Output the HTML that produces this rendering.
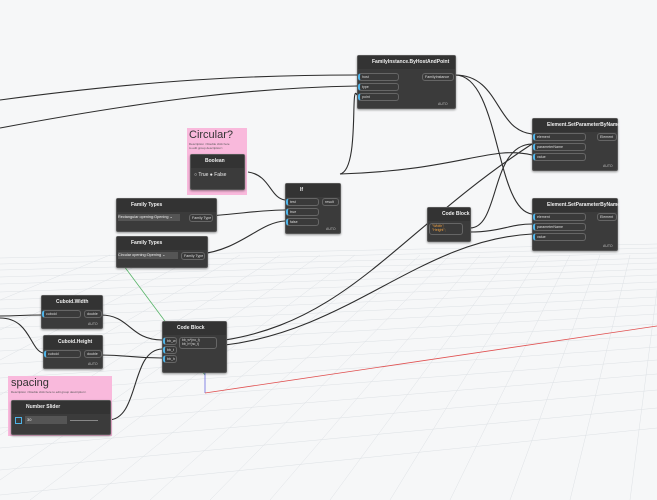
<!DOCTYPE html>
<html><head><style>
body{margin:0;width:657px;height:500px;overflow:hidden;background:#f6f7f8;font-family:"Liberation Sans",sans-serif;}
.n{position:absolute;background:#3b3b3b;border:1px solid #555;border-radius:2px;box-shadow:0 1px 2px rgba(0,0,0,.4);text-align:left;}
.h{height:13px;background:#333;color:#eee;font-size:5px;line-height:13px;padding-left:14px;font-weight:bold;text-align:left;}
.p{position:absolute;height:6px;border:1px solid #666;border-radius:3px;background:#3a3a3a;color:#ddd;font-size:3.6px;line-height:6px;padding-left:2px;}
.p.i{border-left:2px solid #4fb4e8;}
.g{position:absolute;background:#f9b9dc;}
.t{position:absolute;color:#bbb;font-size:3.5px;}
</style></head><body>
<svg width="657" height="500" style="position:absolute;left:0;top:0">
<g stroke="#dde1e5" stroke-width="0.5" fill="none">
<path d="M0 258 L657 244 M0 264 L657 248 M0 270 L657 253 M0 277 L657 258 M0 284 L657 263 M0 292 L657 269 M0 300 L657 275 M0 309 L657 282 M0 318 L657 289 M0 328 L657 297 M0 339 L657 305 M0 351 L657 314 M0 364 L657 324 M0 378 L657 335 M0 393 L657 347 M0 410 L657 360 M0 428 L657 374 M0 448 L657 390 M0 470 L657 408 M0 495 L657 428"/>
<path d="M0 300 L110 255 M0 330 L160 255 M0 360 L200 255 M0 395 L240 255 M0 435 L280 255 M0 480 L320 255 M30 500 L355 255 M90 500 L390 255 M150 500 L420 255 M210 500 L450 255 M270 500 L480 255 M330 500 L510 255 M390 500 L540 255 M450 500 L570 255 M510 500 L600 255 M570 500 L630 255 M630 500 L657 290"/>
</g>
<line x1="118" y1="258" x2="205" y2="375" stroke="#5ab56a" stroke-width="0.8"/>
<line x1="205" y1="355" x2="205" y2="393" stroke="#6a6ae0" stroke-width="0.8"/>
<line x1="205" y1="393" x2="657" y2="326" stroke="#e05050" stroke-width="0.8"/>
<g stroke="#2d2d2d" stroke-width="1.1" fill="none">
<path d="M0 100 C150 80 250 75 357 75"/>
<path d="M0 128 C150 100 250 88 357 86"/>
<path d="M455 75 C500 75 495 130 532 134"/>
<path d="M455 75 C500 75 495 210 532 214"/>
<path d="M340 174 C360 170 350 80 357 95"/>
<path d="M340 174 C460 170 490 145 532 155"/>
<path d="M248 172 C270 175 270 198 285 200"/>
<path d="M208 216 C240 214 260 210 285 210"/>
<path d="M200 254 C240 250 260 222 285 221"/>
<path d="M470 228 C500 228 490 145 532 144"/>
<path d="M470 232 C500 232 510 224 532 224"/>
<path d="M225 340 C350 320 400 230 532 144"/>
<path d="M225 345 C350 330 420 240 532 234"/>
<path d="M0 316 C20 316 20 315 41 315"/>
<path d="M0 318 C30 318 30 350 43 353"/>
<path d="M101 315 C130 315 130 340 162 340"/>
<path d="M101 355 C130 355 130 358 162 358"/>
<path d="M108 420 C140 420 130 350 162 349"/>
</g>
</svg>
<div class="n" style="left:357px;top:55px;width:97px;height:52px"><div class="h">FamilyInstance.ByHostAndPoint</div>
<div class="p i" style="left:0;top:17px;width:36px">host</div><div class="p i" style="left:0;top:27px;width:36px">type</div><div class="p i" style="left:0;top:37px;width:36px">point</div>
<div class="p" style="left:64px;top:17px;width:28px">FamilyInstance</div><div class="t" style="left:80px;top:46px">AUTO</div></div>
<div class="n" style="left:532px;top:118px;width:84px;height:51px"><div class="h">Element.SetParameterByName</div>
<div class="p i" style="left:0;top:14px;width:48px">element</div><div class="p i" style="left:0;top:24px;width:48px">parameterName</div><div class="p i" style="left:0;top:34px;width:48px">value</div>
<div class="p" style="left:64px;top:14px;width:16px">Element</div><div class="t" style="left:70px;top:45px">AUTO</div></div>
<div class="n" style="left:532px;top:198px;width:84px;height:51px"><div class="h">Element.SetParameterByName</div>
<div class="p i" style="left:0;top:14px;width:48px">element</div><div class="p i" style="left:0;top:24px;width:48px">parameterName</div><div class="p i" style="left:0;top:34px;width:48px">value</div>
<div class="p" style="left:64px;top:14px;width:16px">Element</div><div class="t" style="left:70px;top:45px">AUTO</div></div>
<div class="n" style="left:427px;top:207px;width:42px;height:33px"><div class="h">Code Block</div>
<div class="p" style="left:1px;top:15px;width:30px;height:10px;color:#f0a040;font-size:3.5px;line-height:4px">"Width";<br>"Height";</div></div>
<div class="g" style="left:187px;top:128px;width:60px;height:67px"><div style="font-size:11px;color:#333;padding:1px 2px">Circular?</div><div style="font-size:3px;color:#555;padding-left:2px">Description &lt;Double click here<br>to edit group description&gt;</div></div>
<div class="n" style="left:190px;top:154px;width:53px;height:34px"><div class="h">Boolean</div><div style="color:#eee;font-size:5px;padding:4px 3px">○ True ● False</div></div>
<div class="n" style="left:285px;top:183px;width:54px;height:49px"><div class="h">If</div>
<div class="p i" style="left:0;top:14px;width:28px">test</div><div class="p i" style="left:0;top:24px;width:28px">true</div><div class="p i" style="left:0;top:34px;width:28px">false</div>
<div class="p" style="left:36px;top:14px;width:13px">result</div><div class="t" style="left:40px;top:43px">AUTO</div></div>
<div class="n" style="left:116px;top:198px;width:99px;height:32px"><div class="h">Family Types</div>
<div style="position:absolute;left:1px;top:15px;width:62px;height:7px;background:#555;color:#eee;font-size:3.8px;line-height:7px">Rectangular opening:Opening ⌄</div><div class="p" style="left:72px;top:15px;width:20px">Family Type</div></div>
<div class="n" style="left:116px;top:236px;width:90px;height:30px"><div class="h">Family Types</div>
<div style="position:absolute;left:1px;top:15px;width:60px;height:7px;background:#555;color:#eee;font-size:3.8px;line-height:7px">Circular opening:Opening ⌄</div><div class="p" style="left:64px;top:15px;width:20px">Family Type</div></div>
<div class="n" style="left:41px;top:295px;width:60px;height:32px"><div class="h">Cuboid.Width</div>
<div class="p i" style="left:0;top:14px;width:34px">cuboid</div><div class="p" style="left:42px;top:14px;width:14px">double</div><div class="t" style="left:46px;top:26px">AUTO</div></div>
<div class="n" style="left:43px;top:335px;width:58px;height:32px"><div class="h">Cuboid.Height</div>
<div class="p i" style="left:0;top:14px;width:32px">cuboid</div><div class="p" style="left:40px;top:14px;width:14px">double</div><div class="t" style="left:44px;top:26px">AUTO</div></div>
<div class="n" style="left:162px;top:321px;width:63px;height:50px"><div class="h">Code Block</div>
<div class="p i" style="left:0;top:15px;width:9px">bb_w</div><div class="p i" style="left:0;top:24px;width:9px">bb_t</div><div class="p i" style="left:0;top:33px;width:9px">bb_h</div>
<div class="p" style="left:16px;top:15px;width:34px;height:10px;font-size:3.3px;line-height:4px">bb_w*(no_t)<br>bb_h*(no_t)</div></div>
<div class="g" style="left:8px;top:376px;width:104px;height:60px"><div style="font-size:11px;color:#333;padding:1px 3px">spacing</div><div style="font-size:3px;color:#555;padding-left:3px">Description &lt;Double click here to edit group description&gt;</div></div>
<div class="n" style="left:11px;top:400px;width:98px;height:33px"><div class="h">Number Slider</div>
<div style="position:absolute;left:13px;top:15px;width:40px;height:8px;background:#555;color:#eee;font-size:4px;line-height:8px;padding-left:2px">30</div>
<div style="position:absolute;left:3px;top:16px;width:5px;height:5px;border:1px solid #4fb4e8"></div>
<div style="position:absolute;left:58px;top:19px;width:28px;height:1px;background:#888"></div></div>
</body></html>
